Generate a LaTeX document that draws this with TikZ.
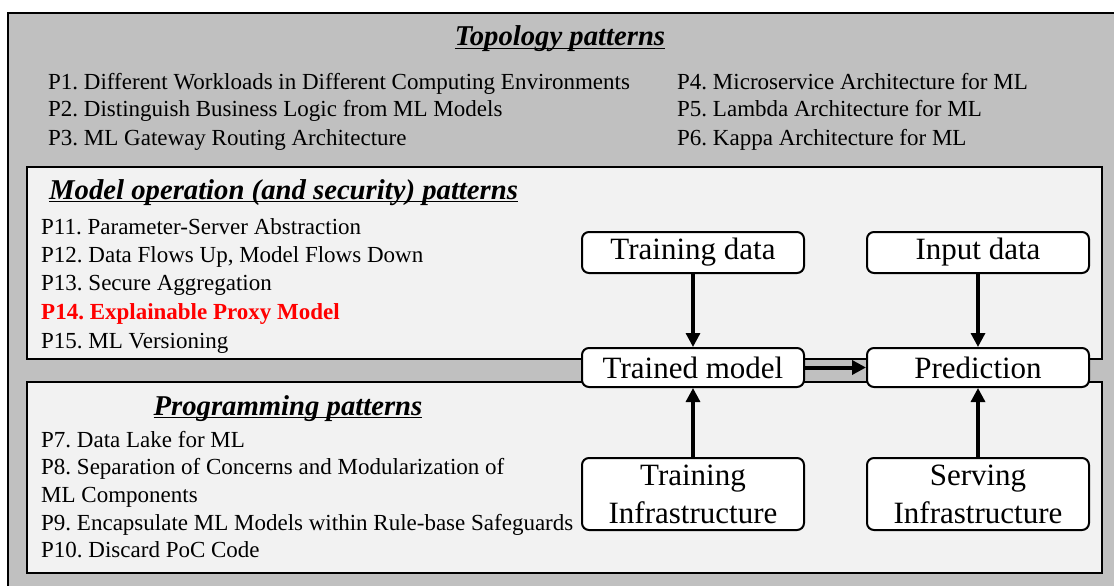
\documentclass[tikz,border=0pt]{standalone}
\usepackage{fontspec}
\setmainfont{Liberation Serif}
\usetikzlibrary{arrows.meta,positioning}
\definecolor{outergray}{RGB}{192,192,192}
\definecolor{innergray}{RGB}{242,242,242}
\newcommand{\ulin}[1]{\setbox0\hbox{#1}\rlap{\rule[-3pt]{\wd0}{1.4pt}}\box0}
\frenchspacing
\tikzset{
  panel/.style={draw=black, line width=2.8pt},
  stage/.style={draw=black, line width=2pt, fill=white, rounded corners=7pt,
    minimum width=222pt, align=center, inner sep=0pt,
    font=\fontsize{31}{38}\selectfont},
  item/.style={anchor=base west, inner sep=0pt, font=\fontsize{23}{28}\selectfont},
  heading/.style={anchor=base, inner sep=0pt,
    font=\fontsize{28.7}{34}\selectfont\bfseries\itshape},
  flow/.style={line width=3.2pt, -{Triangle[length=14pt,width=14pt]}}
}
\begin{document}
\begin{tikzpicture}[x=1pt, y=-1pt]
\useasboundingbox (0,0) rectangle (1114,586);
\clip (0,0) rectangle (1114,586);
\draw[panel, fill=outergray] (8,13) rectangle (1130,600);
\draw[panel, fill=innergray] (27,167) rectangle (1102,359);
\draw[panel, fill=innergray] (27,382) rectangle (1102,573);
% topology
\node[heading] (topo) at (560,46) {\ulin{Topology patterns}};
\node[item] (p1) at (48,89) {P1. Different Workloads in Different Computing Environments};
\node[item] (p2) at (48,117) {P2. Distinguish Business Logic from ML Models};
\node[item] (p3) at (48,145) {P3. ML Gateway Routing Architecture};
\node[item] (p4) at (677,89) {P4. Microservice Architecture for ML};
\node[item] (p5) at (677,117) {P5. Lambda Architecture for ML};
\node[item] (p6) at (677,145) {P6. Kappa Architecture for ML};
% model operation
\node[heading, anchor=base west] (modop) at (49,199) {\ulin{Model operation (and security) patterns}};
\node[item] (p11) at (41,234) {P11. Parameter-Server Abstraction};
\node[item] (p12) at (41,262) {P12. Data Flows Up, Model Flows Down};
\node[item] (p13) at (41,290) {P13. Secure Aggregation};
\node[item, text=red, font=\fontsize{23}{28}\selectfont\bfseries] (p14) at (41,319) {P14. Explainable Proxy Model};
\node[item] (p15) at (41,348) {P15. ML Versioning};
% programming
\node[heading] (prog) at (288,415) {\ulin{Programming patterns}};
\node[item] (p7) at (41,447) {P7. Data Lake for ML};
\node[item] (p8) at (41,474) {P8. Separation of Concerns and Modularization of};
\node[item] (p8b) at (41,502) {ML Components};
\node[item] (p9) at (41,530) {P9. Encapsulate ML Models within Rule-base Safeguards};
\node[item] (p10) at (41,557) {P10. Discard PoC Code};
% pipeline
\node[stage, minimum height=41pt] (tdata) at (693,252.5) {Training data};
\node[stage, minimum height=41pt] (idata) at (978,252.5) {Input data};
\node[stage, minimum height=39pt] (tmodel) at (693,367.5) {Trained model};
\node[stage, minimum height=39pt] (pred) at (978,367.5) {Prediction};
\node[stage, minimum height=72pt] (tinfra) at (693,494) {Training\\Infrastructure};
\node[stage, minimum height=72pt] (sinfra) at (978,494) {Serving\\Infrastructure};
\draw[flow] (tdata) -- (tmodel);
\draw[flow] (idata) -- (pred);
\draw[flow] (tinfra) -- (tmodel);
\draw[flow] (sinfra) -- (pred);
\draw[flow, line width=4pt] (tmodel) -- (pred);
\end{tikzpicture}
\end{document}
